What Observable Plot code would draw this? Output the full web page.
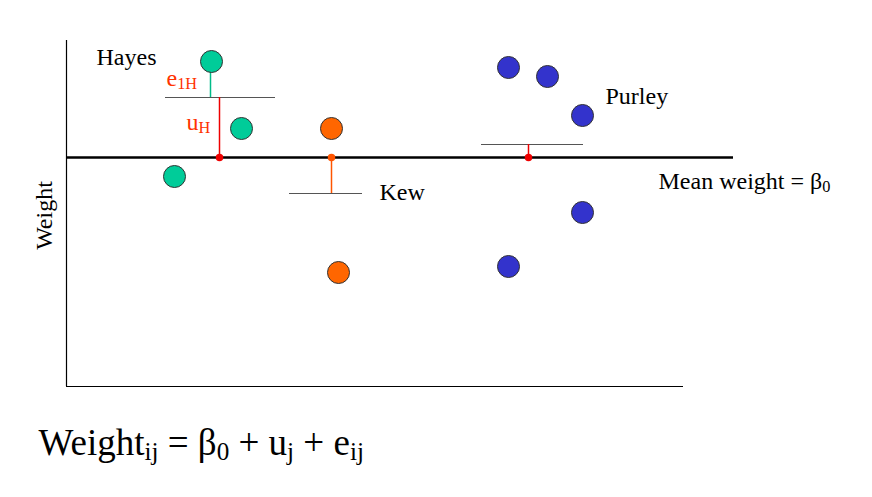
<!DOCTYPE html>
<html>
<head>
<meta charset="utf-8">
<script src="https://cdn.jsdelivr.net/npm/d3@7"></script>
<script src="https://cdn.jsdelivr.net/npm/@observablehq/plot@0.6"></script>
<style>
  body { margin: 0; background: #fff; }
</style>
</head>
<body>
<div id="chart"></div>
<script>
const groups = ["Hayes", "Kew", "Purley"];
const groupColors = ["#00cc99", "#ff6600", "#3333cc"];

// observations: group, x, weight
const pointGroup = ["Hayes", "Hayes", "Hayes", "Kew", "Kew", "Purley", "Purley", "Purley", "Purley", "Purley"];
const pointX = [211, 241, 174, 331, 338, 508, 547, 582, 582, 508];
const pointY = [61, 128, 176, 128, 272, 67, 76, 115, 212, 266];

// overall mean and group means
const meanY = 157;
const groupMeanY = [97, 193, 144];
const groupLineX1 = [165, 289, 481];
const groupLineX2 = [275, 362, 583];
const groupStemX = [219, 331, 528];
const groupStemColor = ["#ee0000", "#ff5500", "#ee0000"];

const points = pointX.map((x, i) => ({x, y: pointY[i], g: pointGroup[i]}));
const groupRows = groups.map((g, i) => ({
  g, y: groupMeanY[i], x1: groupLineX1[i], x2: groupLineX2[i], sx: groupStemX[i], c: groupStemColor[i]
}));

const serif = "Liberation Serif, Times New Roman, serif";

const plot = Plot.plot({
  width: 872,
  height: 497,
  margin: 0,
  x: {domain: [0, 872], axis: null},
  y: {domain: [0, 497], range: [0, 497], axis: null},
  color: {domain: groups, range: groupColors},
  style: {fontFamily: serif, background: "#fff"},
  marks: [
    // axes
    Plot.ruleX([66], {y1: 40, y2: 386, stroke: "#000", strokeWidth: 1.2}),
    Plot.ruleY([386], {x1: 66, x2: 683, stroke: "#000", strokeWidth: 1.2}),
    // overall mean
    Plot.ruleY([meanY], {x1: 66, x2: 733, stroke: "#000", strokeWidth: 2.5}),
    // group means
    Plot.ruleY(groupRows, {y: "y", x1: "x1", x2: "x2", stroke: "#555", strokeWidth: 1.2}),
    // u_j stems
    Plot.ruleX(groupRows, {x: "sx", y1: "y", y2: () => meanY, stroke: "c", strokeWidth: 1.5}),
    Plot.dot(groupRows, {x: "sx", y: () => meanY, r: 3, fill: "c", stroke: "c"}),
    // e_1H residual
    Plot.ruleX([210], {y1: 72, y2: 97, stroke: "#00bb88", strokeWidth: 1.5}),
    // observations
    Plot.dot(points, {x: "x", y: "y", r: 11, fill: "g", stroke: "#333", strokeWidth: 1}),
    // labels
    Plot.text(["Hayes", "Kew", "Purley"], {
      x: [96, 379, 605], y: [57, 192, 96], text: d => d,
      textAnchor: "start", fontSize: 24, fill: "#000"
    }),
    Plot.text(["Mean weight = β0"], {x: 658, y: 181, textAnchor: "start", fontSize: 24, fill: "#000", className: "sub-beta"}),
    Plot.text(["e1H"], {x: 166, y: 78, textAnchor: "start", fontSize: 24, fill: "#ff3300", className: "sub-e"}),
    Plot.text(["uH"], {x: 186, y: 122, textAnchor: "start", fontSize: 24, fill: "#ff3300", className: "sub-u"}),
    Plot.text(["Weight"], {x: 44, y: 215, rotate: -90, fontSize: 24, fill: "#000"}),
    Plot.text(["formula"], {x: 38, y: 443, textAnchor: "start", fontSize: 37, fill: "#000", className: "formula"})
  ]
});

// rebuild a few labels with subscripts
function subs(cls, parts) {
  const t = d3.select(plot).select("." + cls + " text");
  t.text(null);
  for (const [s, sub] of parts) {
    const sp = t.append("tspan").text(s);
    if (sub) sp.attr("font-size", "0.68em").attr("baseline-shift", "-18%");
  }
}
subs("sub-beta", [["Mean weight = β", false], ["0", true]]);
subs("sub-e", [["e", false], ["1H", true]]);
subs("sub-u", [["u", false], ["H", true]]);
subs("formula", [["Weight", false], ["ij", true], [" = β", false], ["0", true], [" + u", false], ["j", true], [" + e", false], ["ij", true]]);

document.getElementById("chart").append(plot);
</script>
</body>
</html>
